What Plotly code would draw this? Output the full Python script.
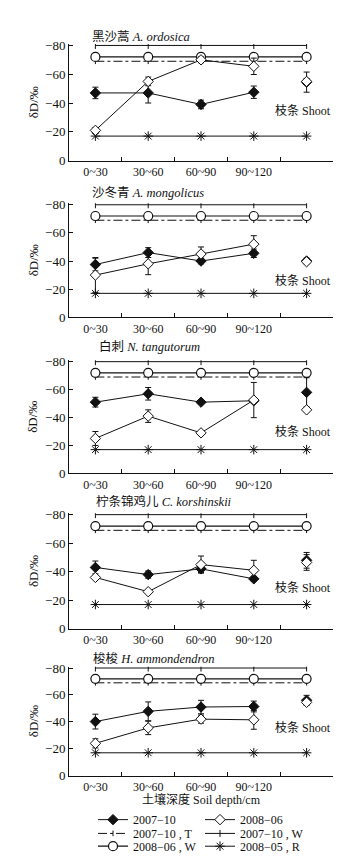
import plotly.graph_objects as go

W, H = 344, 858

# ---------------- data ----------------
categories = ["0~30", "30~60", "60~90", "90~120", "Shoot"]
tick_text = ["0~30", "30~60", "60~90", "90~120", ""]
depths = categories[:4]
shoot = categories[4:]

# reference water sources (same in every panel)
src_2007_10_W = [-80, -80, -80, -80, -80]
src_2007_10_T = [-69, -69, -69, -69, -69]
src_2008_06_W = [-72, -72, -72, -72, -72]
src_2008_05_R = [-17, -17, -17, -17, -17]

titles = ["黑沙蒿 <i>A. ordosica</i>", "沙冬青 <i>A. mongolicus</i>", "白刺 <i>N. tangutorum</i>",
          "柠条锦鸡儿 <i>C. korshinskii</i>", "梭梭 <i>H. ammondendron</i>"]

ordosica_2007_10 = [-47, -47, -39, -47.5]
ordosica_2007_10_err = [4, 7, 3, 4.3]
ordosica_2008_06 = [-21, -55, -70, -65.5]
ordosica_2008_06_err = [2, 3, 2, 5.7]
ordosica_shoot_2007_10 = [-54.5]
ordosica_shoot_2007_10_err = [7]
ordosica_shoot_2008_06 = [-55]
ordosica_shoot_2008_06_err = [2]

mongolicus_2007_10 = [-37.5, -46, -40, -45.5]
mongolicus_2007_10_err = [4.5, 3.5, 2, 3]
mongolicus_2008_06 = [-30, -38, -45, -52]
mongolicus_2008_06_err = [12.5, 7.7, 5, 6]
mongolicus_shoot_2007_10 = [-40]
mongolicus_shoot_2007_10_err = [2]
mongolicus_shoot_2008_06 = [-39.5]
mongolicus_shoot_2008_06_err = [1]

tangutorum_2007_10 = [-51, -57, -51, -52]
tangutorum_2007_10_err = [3.5, 4.5, 1, 1]
tangutorum_2008_06 = [-25, -41, -29, -52.5]
tangutorum_2008_06_err = [5, 4.5, 1, 12.6]
tangutorum_shoot_2007_10 = [-58]
tangutorum_shoot_2007_10_err = [10.5]
tangutorum_shoot_2008_06 = [-45.5]
tangutorum_shoot_2008_06_err = [1]

korshinskii_2007_10 = [-43, -38, -42, -35]
korshinskii_2007_10_err = [4.5, 2.5, 2.5, 1.5]
korshinskii_2008_06 = [-36, -26, -45, -41]
korshinskii_2008_06_err = [1, 1, 6, 7]
korshinskii_shoot_2007_10 = [-48]
korshinskii_shoot_2007_10_err = [5.5]
korshinskii_shoot_2008_06 = [-46.5]
korshinskii_shoot_2008_06_err = [5.5]

ammondendron_2007_10 = [-40.2, -47.8, -51, -51.4]
ammondendron_2007_10_err = [5.5, 7, 5, 4]
ammondendron_2008_06 = [-24, -35.5, -42, -41.5]
ammondendron_2008_06_err = [3.4, 5, 3, 7]
ammondendron_shoot_2007_10 = [-56]
ammondendron_shoot_2007_10_err = [3.7]
ammondendron_shoot_2008_06 = [-54.5]
ammondendron_shoot_2008_06_err = [1]

shoot_label_y = [-35, -26, -30, -29, -35.5]

panels = [
    (ordosica_2007_10, ordosica_2007_10_err, ordosica_2008_06, ordosica_2008_06_err,
     ordosica_shoot_2007_10, ordosica_shoot_2007_10_err, ordosica_shoot_2008_06, ordosica_shoot_2008_06_err),
    (mongolicus_2007_10, mongolicus_2007_10_err, mongolicus_2008_06, mongolicus_2008_06_err,
     mongolicus_shoot_2007_10, mongolicus_shoot_2007_10_err, mongolicus_shoot_2008_06, mongolicus_shoot_2008_06_err),
    (tangutorum_2007_10, tangutorum_2007_10_err, tangutorum_2008_06, tangutorum_2008_06_err,
     tangutorum_shoot_2007_10, tangutorum_shoot_2007_10_err, tangutorum_shoot_2008_06, tangutorum_shoot_2008_06_err),
    (korshinskii_2007_10, korshinskii_2007_10_err, korshinskii_2008_06, korshinskii_2008_06_err,
     korshinskii_shoot_2007_10, korshinskii_shoot_2007_10_err, korshinskii_shoot_2008_06, korshinskii_shoot_2008_06_err),
    (ammondendron_2007_10, ammondendron_2007_10_err, ammondendron_2008_06, ammondendron_2008_06_err,
     ammondendron_shoot_2007_10, ammondendron_shoot_2007_10_err, ammondendron_shoot_2008_06, ammondendron_shoot_2008_06_err),
]

# ---------------- layout geometry (pixels) ----------------
X0, X1 = 61, 325
panel_px = [(30.5, 149), (192.5, 308.3), (352, 467), (507.5, 625), (663.5, 774.3)]
title_px = [(82, 23), (82, 181), (89, 338), (86, 496), (83, 655)]
YTOP = -81

SERIF = "Liberation Serif, Times New Roman, Noto Sans CJK SC, serif"
INK = "#111111"

fig = go.Figure()
errstyle = dict(type="data", visible=True, color=INK, thickness=1, width=3)

for i, p in enumerate(panels):
    d07, e07, d08, e08, s07, se07, s08, se08 = p
    xa = "x" if i == 0 else f"x{i+1}"
    ya = "y" if i == 0 else f"y{i+1}"
    first = i == 0
    # reference lines
    fig.add_trace(go.Scatter(x=categories, y=src_2008_05_R, xaxis=xa, yaxis=ya, mode="lines+markers",
                             name="2008−05 , R", legend="legend3", legendrank=2, showlegend=first,
                             line=dict(color=INK, width=1),
                             marker=dict(symbol="asterisk-open", size=8, color=INK, line=dict(width=1, color=INK))))
    fig.add_trace(go.Scatter(x=categories, y=src_2007_10_W, xaxis=xa, yaxis=ya, mode="lines+markers",
                             name="2007−10 , W", legend="legend2", legendrank=2, showlegend=first,
                             line=dict(color=INK, width=1),
                             marker=dict(symbol="line-ns-open", size=5, color=INK, line=dict(width=1, color=INK))))
    fig.add_trace(go.Scatter(x=categories, y=src_2007_10_T, xaxis=xa, yaxis=ya, mode="lines+markers",
                             name="2007−10 , T", legend="legend2", legendrank=1, showlegend=first,
                             line=dict(color=INK, width=1, dash="dashdot"),
                             marker=dict(symbol="line-ns-open", size=4, color=INK, line=dict(width=1, color=INK))))
    fig.add_trace(go.Scatter(x=categories, y=src_2008_06_W, xaxis=xa, yaxis=ya, mode="lines+markers",
                             name="2008−06 , W", legend="legend3", legendrank=1, showlegend=first,
                             line=dict(color=INK, width=1.2),
                             marker=dict(symbol="circle", size=9, color="white", line=dict(width=1.2, color=INK))))
    # 2007-10 xylem
    fig.add_trace(go.Scatter(x=depths, y=d07, xaxis=xa, yaxis=ya, mode="lines+markers",
                             name="2007−10", legend="legend", legendrank=1, showlegend=first,
                             error_y=dict(array=e07, **errstyle),
                             line=dict(color=INK, width=1),
                             marker=dict(symbol="diamond", size=8, color=INK, line=dict(width=1, color=INK))))
    fig.add_trace(go.Scatter(x=shoot, y=s07, xaxis=xa, yaxis=ya, mode="markers", showlegend=False,
                             error_y=dict(array=se07, **errstyle),
                             marker=dict(symbol="diamond", size=8, color=INK, line=dict(width=1, color=INK))))
    # 2008-06 xylem
    fig.add_trace(go.Scatter(x=depths, y=d08, xaxis=xa, yaxis=ya, mode="lines+markers",
                             name="2008−06", legend="legend", legendrank=2, showlegend=first,
                             error_y=dict(array=e08, **errstyle),
                             line=dict(color=INK, width=1),
                             marker=dict(symbol="diamond", size=8, color="white", line=dict(width=1, color=INK))))
    fig.add_trace(go.Scatter(x=shoot, y=s08, xaxis=xa, yaxis=ya, mode="markers", showlegend=False,
                             error_y=dict(array=se08, **errstyle),
                             marker=dict(symbol="diamond", size=8, color="white", line=dict(width=1, color=INK))))

layout = dict(width=W, height=H, margin=dict(l=0, r=0, t=0, b=0),
              paper_bgcolor="white", plot_bgcolor="white", font=dict(family=SERIF, size=12, color=INK))
annotations = []
for i, (top, bot) in enumerate(panel_px):
    xk = "xaxis" if i == 0 else f"xaxis{i+1}"
    yk = "yaxis" if i == 0 else f"yaxis{i+1}"
    yname = "y" if i == 0 else f"y{i+1}"
    xname = "x" if i == 0 else f"x{i+1}"
    layout[xk] = dict(domain=[X0 / W, X1 / W], anchor=yname, type="category",
                      categoryorder="array", categoryarray=categories,
                      tickmode="array", tickvals=categories, ticktext=tick_text,
                      range=[-0.5, 4.5], tickson="boundaries", ticks="inside", ticklen=4,
                      tickcolor=INK, showline=True, linecolor=INK, linewidth=1, showgrid=False,
                      zeroline=False, tickangle=0, tickfont=dict(family=SERIF, size=12, color=INK))
    layout[yk] = dict(domain=[1 - bot / H, 1 - top / H], anchor=xname, range=[0, YTOP],
                      tickmode="array", tickvals=[0, -20, -40, -60, -80],
                      ticktext=["0", "−20", "−40", "−60", "−80"],
                      ticks="inside", ticklen=4, tickcolor=INK, showline=True, linecolor=INK,
                      linewidth=1, showgrid=False, zeroline=False,
                      tickfont=dict(family=SERIF, size=13, color=INK))
    tx, ty = title_px[i]
    annotations.append(dict(text=titles[i], xref="paper", yref="paper", x=tx / W, y=1 - ty / H,
                            xanchor="left", yanchor="middle", showarrow=False,
                            font=dict(family=SERIF, size=12.5, color=INK)))
    annotations.append(dict(text="δD/‰", xref="paper", yref="paper", x=25 / W,
                            y=1 - ((top + bot) / 2) / H, textangle=-90, xanchor="center",
                            yanchor="middle", showarrow=False, font=dict(family=SERIF, size=13, color=INK)))
    annotations.append(dict(text="枝条 Shoot", xref="paper", yref=yname, x=X1 / W, y=shoot_label_y[i],
                            xanchor="right", yanchor="middle", showarrow=False,
                            font=dict(family=SERIF, size=12, color=INK)))

annotations.append(dict(text="土壤深度 Soil depth/cm", xref="paper", yref="paper", x=(X0 + X1) / 2 / W,
                        y=1 - 799 / H, xanchor="center", yanchor="middle", showarrow=False,
                        font=dict(family=SERIF, size=12, color=INK)))
layout["annotations"] = annotations

leg_common = dict(orientation="h", xanchor="left", yanchor="middle", bgcolor="rgba(0,0,0,0)",
                  font=dict(family=SERIF, size=12, color=INK), itemwidth=30,
                  entrywidth=62, entrywidthmode="pixels", traceorder="normal")
layout["legend"] = dict(x=85 / W, y=1 - 819 / H, **leg_common)
layout["legend2"] = dict(x=85 / W, y=1 - 833 / H, **leg_common)
layout["legend3"] = dict(x=85 / W, y=1 - 846 / H, **leg_common)

fig.update_layout(**layout)
fig.write_html("out.html")
